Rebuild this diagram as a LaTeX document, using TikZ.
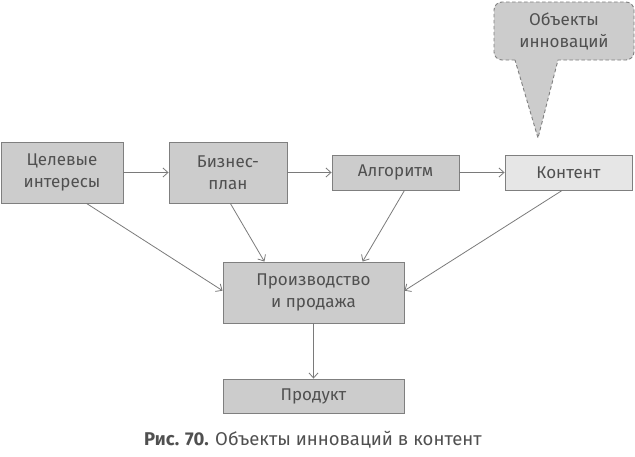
\documentclass[tikz,border=0pt]{standalone}
\usepackage{fontspec}
\setmainfont{Fira Sans}
\usetikzlibrary{arrows.meta,calc}
\definecolor{boxfill}{HTML}{CCCCCC}
\definecolor{boxline}{HTML}{7F7F7F}
\definecolor{lightfill}{HTML}{E6E6E6}
\definecolor{txt}{HTML}{505050}
\definecolor{conn}{HTML}{7A7A7A}
\begin{document}
\begin{tikzpicture}[x=1pt,y=-1pt,
  box/.style={draw=boxline,fill=boxfill,line width=0.9pt,text=txt,align=center,
    inner sep=0pt,font=\fontsize{17}{22}\selectfont},
  conn/.style={draw=conn,line width=0.8pt,-{Straight Barb[length=5pt,width=9pt,line width=0.8pt]}}]
\useasboundingbox (0,0) rectangle (635,456);
\node[box,minimum width=122pt,minimum height=61pt] (ci) at (62,172.5) {Целевые\\интересы};
\node[box,minimum width=118pt,minimum height=61pt] (bp) at (228,172.5) {Бизнес-\\план};
\node[box,minimum width=127pt,minimum height=35pt] (alg) at (395.5,172.5) {Алгоритм};
\node[box,fill=lightfill,minimum width=127pt,minimum height=35pt] (kont) at (568.5,172.5) {Контент};
\node[box,minimum width=181pt,minimum height=61pt] (pp) at (313.5,292.5) {Производство\\и продажа};
\node[box,minimum width=181pt,minimum height=34pt] (prod) at (313.5,396) {Продукт};
% callout
\draw[draw=boxline,fill=boxfill,line width=0.9pt,dash pattern=on 3.5pt off 2.5pt]
  (515,60) -- (502,60) arc[start angle=90,end angle=180,radius=8]
  -- (494,10) arc[start angle=180,end angle=270,radius=8]
  -- (626,2) arc[start angle=270,end angle=360,radius=8]
  -- (634,52) arc[start angle=0,end angle=90,radius=8]
  -- (558,60) -- (538,138) -- cycle;
\node[text=txt,align=center,font=\fontsize{17}{22}\selectfont] (obj) at (564,31) {Объекты\\инноваций};
% connectors
\draw[conn] (ci.east) -- (bp.west);
\draw[conn] (bp.east) -- (alg.west);
\draw[conn] (alg.east) -- (kont.west);
\draw[conn] ($(ci.south west)!0.70!(ci.south east)$) -- ($(pp.north west)!0.47!(pp.south west)$);
\draw[conn] ($(bp.south west)!0.52!(bp.south east)$) -- ($(pp.north west)!0.23!(pp.north east)$);
\draw[conn] ($(alg.south west)!0.57!(alg.south east)$) -- ($(pp.north west)!0.77!(pp.north east)$);
\draw[conn] ($(kont.south west)!0.45!(kont.south east)$) -- ($(pp.north east)!0.47!(pp.south east)$);
\draw[conn] (pp.south) -- (prod.north);
% caption
\node[text=txt,font=\fontsize{18.5}{22}\selectfont] (cap) at (313,440) {\textbf{Рис. 70.} Объекты инноваций в контент};
\end{tikzpicture}
\end{document}
